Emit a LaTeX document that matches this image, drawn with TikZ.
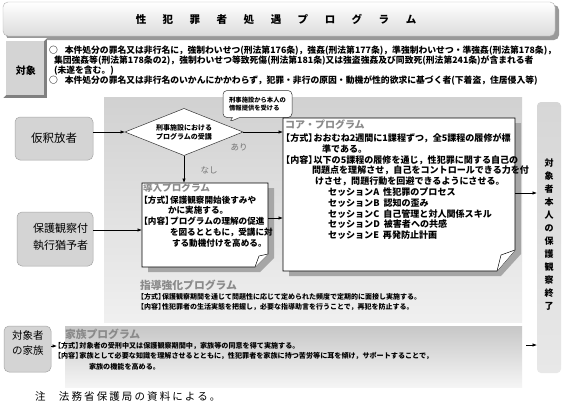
\documentclass[tikz,border=0pt]{standalone}
\usepackage{fontspec}
\setmainfont{Noto Sans CJK JP}
\usetikzlibrary{arrows.meta,shapes.geometric,shapes.callouts}
\definecolor{boxgray}{HTML}{D4D4D4}
\definecolor{boxline}{HTML}{A6A6A6}
\definecolor{ttlgray}{HTML}{8A8A8A}
\newcommand\fsz[2]{\fontsize{#1pt}{#2pt}\selectfont}
\newcommand\lbk{\hspace*{-0.42em}【}
\newcommand\rbk{】\hspace{-0.42em}}
\begin{document}
\begin{tikzpicture}[x=1pt,y=-1pt,
  every node/.style={inner sep=0pt,outer sep=0pt},
  graybox/.style={draw=boxline, fill=boxgray, rounded corners=5pt, line width=0.5pt},
  arr/.style={-{Latex[length=4.5pt,width=3.4pt]}, line width=0.6pt},
  ttl/.style={text=ttlgray, anchor=west},
  body/.style={align=left, anchor=north west},
  lbl/.style={text=black!55, font=\fsz{8.5}{10}},
  paper/.style={draw=black, fill=white, line width=0.6pt},
  papershadow/.style={fill=black!35},
]
\useasboundingbox (0,0) rectangle (570,405);
\fill[white] (0,0) rectangle (570,405);

% title bar
\fill[black!40, rounded corners=5pt] (6,5) rectangle (559,40);
\shade[top color=white, bottom color=black!14, rounded corners=5pt, draw=black!30] (3,2) rectangle (555,36);
\node[font=\fsz{10.5}{12}\bfseries] (title) at (276,19) {性\hspace{16.5pt}犯\hspace{16.5pt}罪\hspace{16.5pt}者\hspace{16.5pt}処\hspace{16.5pt}遇\hspace{16.5pt}プ\hspace{16.5pt}ロ\hspace{16.5pt}グ\hspace{16.5pt}ラ\hspace{16.5pt}ム};

% target button
\fill[black!50] (3,38) rectangle (47,98);
\fill[white] (3,38) -- (47,38) -- (44,41) -- (6,41) -- (6,95) -- (3,98) -- cycle;
\fill[black!17] (6,41) rectangle (44,95);
\node[font=\fsz{10}{12}\bfseries] (taisho) at (26,71) {対象};

\node[body, font=\fsz{8.8}{10.2}\bfseries] (cond) at (49,45.5) {○\hspace{7pt}本件処分の罪名又は非行名に，強制わいせつ(刑法第176条)，強姦(刑法第177条)，準強制わいせつ・準強姦(刑法第178条)，\\
\hspace*{5pt}集団強姦等(刑法第178条の2)，強制わいせつ等致死傷(刑法第181条)又は強盗強姦及び同致死(刑法第241条)が含まれる者\\
\hspace*{5pt}(未遂を含む。)\\
○\hspace{7pt}本件処分の罪名又は非行名のいかんにかかわらず，犯罪・非行の原因・動機が性的欲求に基づく者(下着盗，住居侵入等)};

% regions
\node[top color=black!18, bottom color=black!6, minimum width=418pt, minimum height=225pt, anchor=north west] (region) at (104,97) {};
\node[top color=black!22, bottom color=black!4, minimum width=457pt, minimum height=61pt, anchor=north west] (fam) at (65,326) {};
\node[top color=black!16, bottom color=black!9, rounded corners=4pt, minimum width=24pt, minimum height=271pt, anchor=north west] (col) at (537,102) {};
\node[font=\fsz{9}{13}\bfseries, align=center] (coltext) at (549,234.5) {対\\象\\者\\本\\人\\の\\保\\護\\観\\察\\終\\了};

% left boxes
\node[graybox, minimum width=78pt, minimum height=43pt, font=\fsz{11.5}{13}] (kari) at (54,138.5) {仮釈放者};
\node[graybox, minimum width=76pt, minimum height=54pt] (hogo) at (55,239) {};
\node[font=\fsz{11}{17}, align=right, anchor=east] (hogotext) at (88,237) {保護観察付\\執行猶予者};
\node[graybox, minimum width=47pt, minimum height=46pt] (kazoku) at (27.5,349) {};
\node[font=\fsz{10.5}{15}, align=center] (kazokutext) at (28,343) {対象者\\の家族};

% diamond and callout
\node[diamond, draw=black!80, fill=white, line width=0.5pt, minimum width=118pt, minimum height=47pt, aspect=2.5, align=center, font=\fsz{7}{9}\bfseries] (dia) at (184,132) {刑事施設における\\プログラムの受講};
\node[rectangle callout, draw=black!80, fill=white, rounded corners=4pt, line width=0.5pt, minimum width=69pt, minimum height=27pt, callout absolute pointer={(229,122)}, align=left, font=\fsz{6.3}{7.8}\bfseries] (call) at (257.5,104) {刑事施設から本人の\\情報提供を受ける};

% intro box
\node[minimum width=126pt, minimum height=84pt, anchor=north west] (intro) at (142,183) {};
\fill[papershadow] (148,188) -- (274,188) -- (274,258) -- (260,272) -- (148,272) -- cycle;
\draw[paper] (142,183) -- (268,183) -- (268,254) -- (255,267) -- (142,267) -- cycle;
\draw[paper, line width=0.5pt] (255,267) -- (259,256) -- (268,254);
\node[ttl, font=\fsz{9.6}{12}\bfseries] (introtitle) at (143,187.5) {導入プログラム};
\node[body, font=\fsz{8.6}{10.8}\bfseries] (introbody) at (143,195.7) {\lbk 方式\rbk 保護観察開始後すみや\\
\hspace*{25pt}かに実施する。\\
\lbk 内容\rbk プログラムの理解の促進\\
\hspace*{27pt}を図るとともに，受講に対\\
\hspace*{29pt}する動機付けを高める。};

% core box
\node[minimum width=232pt, minimum height=153pt, anchor=north west] (core) at (283,118) {};
\fill[papershadow] (289,123) -- (521,123) -- (521,254) -- (501,276) -- (289,276) -- cycle;
\draw[paper] (283,118) -- (515,118) -- (515,250) -- (497,271) -- (283,271) -- cycle;
\draw[paper, line width=0.5pt] (497,271) -- (501,255) -- (515,250);
\node[ttl, font=\fsz{10}{12}\bfseries] (coretitle) at (285,125) {コア・プログラム};
\node[body, font=\fsz{9.05}{10.8}\bfseries] (corebody) at (285,133.5) {\lbk 方式\rbk おおむね2週間に1課程ずつ，全5課程の履修が標\\
\hspace*{37pt}準である。\\
\lbk 内容\rbk 以下の5課程の履修を通じ，性犯罪に関する自己の\\
\hspace*{27pt}問題点を理解させ，自己をコントロールできる力を付\\
\hspace*{30pt}けさせ，問題行動を回避できるようにさせる。\\
\hspace*{43pt}セッションA\hspace{4pt}性犯罪のプロセス\\
\hspace*{43pt}セッションB\hspace{4pt}認知の歪み\\
\hspace*{43pt}セッションC\hspace{4pt}自己管理と対人関係スキル\\
\hspace*{43pt}セッションD\hspace{4pt}被害者への共感\\
\hspace*{43pt}セッションE\hspace{4pt}再発防止計画};

% guidance program
\node[ttl, font=\fsz{10.8}{12}\bfseries] (shidotitle) at (140,285) {指導強化プログラム};
\node[body, font=\fsz{7}{10}\bfseries] (shidobody) at (140,293.5) {\lbk 方式\rbk 保護観察期間を通じて問題性に応じて定められた頻度で定期的に面接し実施する。\\
\lbk 内容\rbk 性犯罪者の生活実態を把握し，必要な指導助言を行うことで，再犯を防止する。};

% family program
\node[ttl, font=\fsz{10.8}{12}\bfseries] (famtitle) at (65,334.5) {家族プログラム};
\node[body, font=\fsz{7.1}{10.3}\bfseries] (fambody) at (57,342.5) {\lbk 方式\rbk 対象者の受刑中又は保護観察期間中，家族等の同意を得て実施する。\\
\lbk 内容\rbk 家族として必要な知識を理解させるとともに，性犯罪者を家族に持つ苦労等に耳を傾け，サポートすることで，\\
\hspace*{32pt}家族の機能を高める。};

% note
\node[anchor=west, font=\fsz{10.5}{12}] (note) at (35,397) {注\hspace{13.5pt}{\addfontfeature{LetterSpace=20}法務省保護局の資料による。}};

% labels
\node[lbl] (ari) at (239,147) {あり};
\node[lbl] (nashi) at (209,170) {なし};

% connectors
\coordinate (yhogo) at (0,230);
\coordinate (yintro) at (0,218);
\coordinate (ycol) at (0,193);
\coordinate (famend) at (526,345);
\coordinate (famtxt) at (57,346);
\draw[arr] (kari.east |- dia.west) -- (dia.west);
\draw[arr] (dia.east) -- (dia.east -| core.west);
\draw[arr] (dia.south) -- (dia.south |- intro.north);
\draw[arr] (hogo.east |- yhogo) -- (intro.west |- yhogo);
\draw[arr] (intro.east |- yintro) -- (core.west |- yintro);
\draw[arr] (core.east |- ycol) -- (col.west |- ycol);
\draw[arr] (famend) -- (col.west |- famend);
\draw[arr] (kazoku.east |- famtxt) -- (famtxt);
\end{tikzpicture}
\end{document}
